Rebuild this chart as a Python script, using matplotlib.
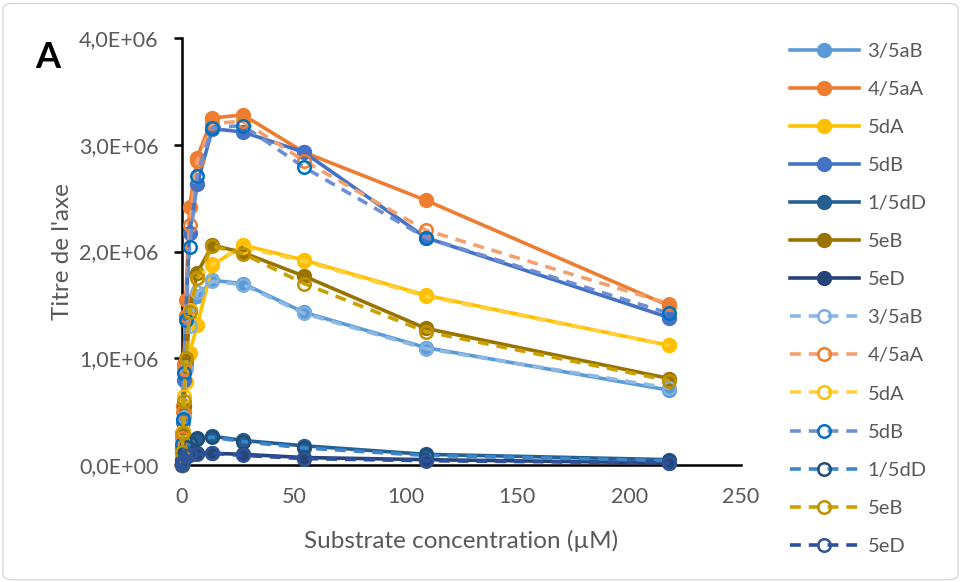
import numpy as np
import matplotlib
matplotlib.use("Agg")
import matplotlib.pyplot as plt
from matplotlib.ticker import FuncFormatter
from matplotlib.patches import FancyBboxPatch

plt.rcParams['font.family'] = ['Lato', 'DejaVu Sans']

# substrate concentration (uM)
conc = [0, 0.21, 0.43, 0.85, 1.7, 3.4, 6.8, 13.6, 27.25, 54.5, 109, 218]

names = ['3/5aB', '4/5aA', '5dA', '5dB', '1/5dD', '5eB', '5eD']

# first set (solid lines, filled markers), values x1e6
set1 = {
    '3/5aB': [0.0, 0.12, 0.25, 0.50, 0.95, 1.35, 1.58, 1.73, 1.70, 1.43, 1.10, 0.70],
    '4/5aA': [0.0, 0.30, 0.55, 0.95, 1.55, 2.42, 2.88, 3.25, 3.28, 2.93, 2.48, 1.49],
    '5dA':   [0.0, 0.12, 0.30, 0.55, 0.78, 1.05, 1.31, 1.87, 2.06, 1.92, 1.59, 1.12],
    '5dB':   [0.0, 0.15, 0.40, 0.80, 1.40, 2.17, 2.63, 3.15, 3.12, 2.93, 2.13, 1.38],
    '1/5dD': [0.02, 0.05, 0.08, 0.12, 0.18, 0.22, 0.25, 0.27, 0.23, 0.18, 0.10, 0.05],
    '5eB':   [0.0, 0.15, 0.30, 0.55, 0.98, 1.45, 1.80, 2.06, 1.99, 1.77, 1.28, 0.81],
    '5eD':   [0.0, 0.02, 0.04, 0.06, 0.08, 0.10, 0.11, 0.11, 0.10, 0.07, 0.05, 0.02],
}

# second set (dashed lines, open markers), values x1e6
set2 = {
    '3/5aB': [0.0, 0.10, 0.22, 0.45, 0.90, 1.30, 1.62, 1.72, 1.69, 1.42, 1.09, 0.72],
    '4/5aA': [0.0, 0.25, 0.50, 0.90, 1.40, 2.25, 2.85, 3.20, 3.22, 2.85, 2.20, 1.51],
    '5dA':   [0.0, 0.13, 0.32, 0.65, 1.00, 1.45, 1.75, 1.88, 2.04, 1.91, 1.58, 1.12],
    '5dB':   [0.0, 0.20, 0.43, 0.86, 1.36, 2.04, 2.71, 3.16, 3.18, 2.79, 2.13, 1.42],
    '1/5dD': [0.02, 0.04, 0.07, 0.11, 0.17, 0.21, 0.24, 0.26, 0.22, 0.16, 0.09, 0.04],
    '5eB':   [0.0, 0.12, 0.30, 0.60, 1.00, 1.43, 1.75, 2.05, 1.98, 1.70, 1.25, 0.79],
    '5eD':   [0.0, 0.02, 0.03, 0.05, 0.08, 0.09, 0.10, 0.11, 0.09, 0.06, 0.04, 0.02],
}

col1 = ['#5B9BD5', '#ED7D31', '#FFC000', '#4472C4', '#255E91', '#997300', '#264478']
line2 = ['#8DB8E5', '#F2A06E', '#FFD040', '#6F8FD4', '#3A86C8', '#C9A000', '#2E4FA0']
edge2 = ['#7FAEE0', '#ED7D31', '#FFC000', '#0070C0', '#1F4E79', '#BF9000', '#2F5597']

fig = plt.figure(figsize=(9.61, 5.82), dpi=100)
ax = fig.add_axes([182 / 961, 1 - 465 / 582, (741 - 182) / 961, (465 - 38) / 582])

handles = []
for i, n in enumerate(names):
    y = np.array(set1[n]) * 1e6
    h, = ax.plot(conc, y, '-o', color=col1[i], lw=2.6, ms=10, mec=col1[i], mfc=col1[i],
                 label=n, clip_on=False, zorder=3)
    handles.append(h)
for i, n in enumerate(names):
    y = np.array(set2[n]) * 1e6
    h, = ax.plot(conc, y, '--o', color=line2[i], lw=2.6, ms=9, mec=edge2[i], mfc='none',
                 mew=1.8, dashes=(3, 2.2), label=n, clip_on=False, zorder=4)
    handles.append(h)

ax.set_xlim(0, 250)
ax.set_ylim(0, 4e6)
ax.set_xticks([0, 50, 100, 150, 200, 250])
ax.set_yticks([0, 1e6, 2e6, 3e6, 4e6])


def sci(v, pos):
    if v == 0:
        return '0,0E+00'
    return ('%.1f' % (v / 1e6)).replace('.', ',') + 'E+06'


ax.yaxis.set_major_formatter(FuncFormatter(sci))
for s in ['top', 'right']:
    ax.spines[s].set_visible(False)
ax.spines['left'].set_linewidth(1.8)
ax.spines['bottom'].set_linewidth(1.8)
ax.tick_params(axis='y', length=6, width=1.8, pad=11, labelsize=15.5, labelcolor='#595959')
ax.tick_params(axis='x', length=0, pad=16, labelsize=15.5, labelcolor='#595959')
ax.set_ylabel("Titre de l'axe", fontsize=17.5, color='#595959', labelpad=4)
ax.set_xlabel("Substrate concentration (µM)", fontsize=17.5, color='#595959', labelpad=16)

fig.text(48 / 961, 1 - 58 / 582, 'A', fontsize=26, fontweight='bold', ha='center', va='center')

leg = fig.legend(handles=handles, loc='upper left', bbox_to_anchor=(784 / 961, 1 - 37 / 582),
                 frameon=False, fontsize=14.5, labelcolor='#595959', handlelength=3.4,
                 handletextpad=0.45, labelspacing=1.04, borderaxespad=0, borderpad=0.3)

fig.patches.append(FancyBboxPatch((0.003, 0.004), 0.994, 0.99, boxstyle='round,pad=0,rounding_size=0.01',
                                  transform=fig.transFigure, fill=False, edgecolor='#D9D9D9', lw=1))

fig.savefig('out.png', dpi=100)
